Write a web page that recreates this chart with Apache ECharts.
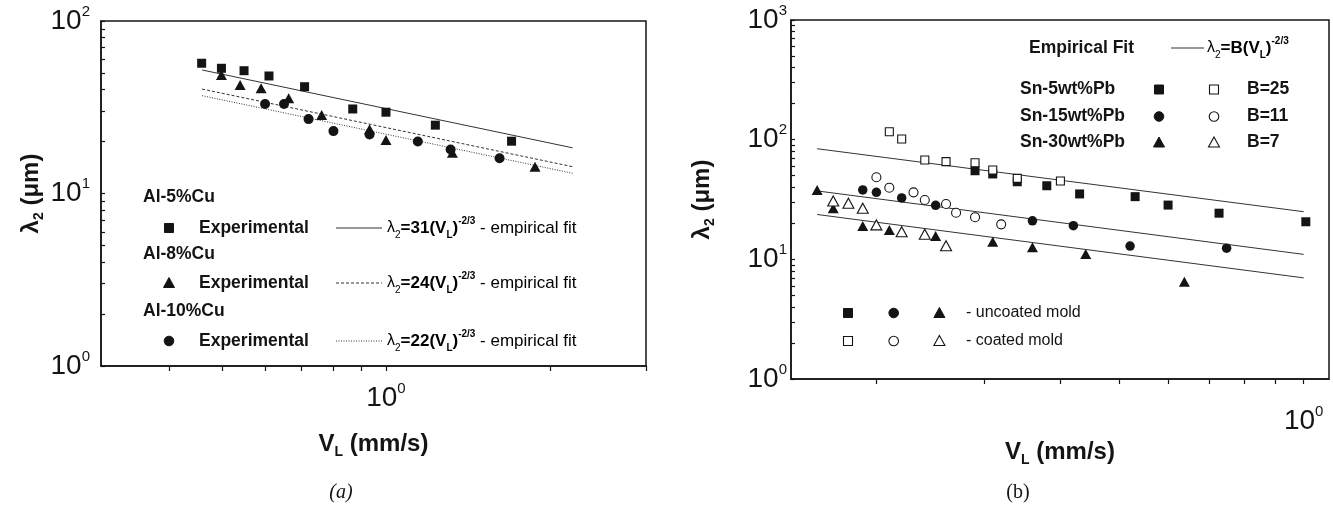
<!DOCTYPE html>
<html>
<head>
<meta charset="utf-8">
<script src="https://cdn.jsdelivr.net/npm/echarts@6/dist/echarts.min.js"></script>
<style>html,body{margin:0;padding:0;background:#fff}#c{width:1333px;height:510px}</style>
</head>
<body>
<div id="c"></div>
<script>
// ---------- Panel (a): Al-Cu ----------
const aCu5V  = [0.459, 0.499, 0.549, 0.610, 0.709, 0.869, 1.00, 1.232, 1.70];
const aCu5L  = [56.9, 53.2, 51.5, 48.0, 41.6, 30.9, 29.6, 24.9, 20.1];
const aCu8V  = [0.499, 0.540, 0.590, 0.663, 0.762, 0.933, 1.00, 1.324, 1.877];
const aCu8L  = [48.6, 42.6, 40.7, 35.6, 28.5, 23.6, 20.4, 17.2, 14.3];
const aCu10V = [0.600, 0.650, 0.721, 0.801, 0.933, 1.144, 1.314, 1.616];
const aCu10L = [33.0, 33.0, 27.0, 23.0, 22.0, 20.0, 18.0, 16.0];
const aFitV   = [0.46, 2.2];
const aFit31L = [52.0, 18.4];
const aFit24L = [40.3, 14.3];
const aFit22L = [36.9, 13.1];
const aXTicks  = [0.4, 0.5, 0.6, 0.7, 0.8, 0.9, 1, 2, 3];
const aXLabels = [1];
const aYTicks  = [1, 2, 3, 4, 5, 6, 7, 8, 9, 10, 20, 30, 40, 50, 60, 70, 80, 90, 100];
const aYLabels = [1, 10, 100];

// ---------- Panel (b): Sn-Pb ----------
const b5UncV  = [0.29, 0.31, 0.34, 0.38, 0.43, 0.53, 0.60, 0.727, 1.008];
const b5UncL  = [55.0, 51.7, 44.5, 41.2, 35.2, 33.4, 28.4, 24.3, 20.6];
const b5CoaV  = [0.21, 0.22, 0.24, 0.26, 0.29, 0.31, 0.34, 0.40];
const b5CoaL  = [116.6, 101.3, 67.6, 65.5, 64.2, 55.8, 47.5, 45.1];
const b15UncV = [0.19, 0.20, 0.22, 0.25, 0.36, 0.42, 0.52, 0.748];
const b15UncL = [38.0, 36.3, 32.6, 28.3, 21.0, 19.1, 12.9, 12.4];
const b15CoaV = [0.20, 0.21, 0.23, 0.24, 0.26, 0.27, 0.29, 0.32];
const b15CoaL = [48.5, 39.7, 36.3, 31.3, 29.0, 24.5, 22.5, 19.6];
const b30UncV = [0.16, 0.17, 0.19, 0.21, 0.25, 0.31, 0.36, 0.44, 0.638];
const b30UncL = [38.0, 26.7, 19.0, 17.6, 15.7, 14.0, 12.6, 11.1, 6.5];
const b30CoaV = [0.17, 0.18, 0.19, 0.20, 0.22, 0.24, 0.26];
const b30CoaL = [30.7, 29.4, 26.7, 19.4, 17.0, 16.2, 13.0];
const bFitV   = [0.16, 1.0];
const bFit25L = [84.0, 25.0];
const bFit11L = [37.3, 11.0];
const bFit7L  = [23.7, 7.0];
const bXTicks  = [0.2, 0.3, 0.4, 0.5, 0.6, 0.7, 0.8, 0.9, 1];
const bXLabels = [1];
const bYTicks  = [1, 2, 3, 4, 5, 6, 7, 8, 9, 10, 20, 30, 40, 50, 60, 70, 80, 90,
                  100, 200, 300, 400, 500, 600, 700, 800, 900, 1000];
const bYLabels = [1, 10, 100, 1000];

// ---------- helpers ----------
const FONT = '"Liberation Sans", Arial, Helvetica, sans-serif';
const INK = '#141414';
const zip = (xs, ys) => xs.map((x, i) => [x, ys[i]]);
const powLabel = v => '{n|10}{s|' + Math.round(Math.log10(v)) + '}';
const tickRich = {
  n: {fontSize: 28, fontFamily: FONT, color: INK, lineHeight: 34},
  s: {fontSize: 15, fontFamily: FONT, color: INK, verticalAlign: 'top', lineHeight: 15}
};
const nameRich = {
  a: {fontSize: 24, fontWeight: 'bold', fontFamily: FONT, color: INK, lineHeight: 30},
  s: {fontSize: 14, fontWeight: 'bold', fontFamily: FONT, color: INK, verticalAlign: 'bottom', lineHeight: 14}
};
const lineSt = {color: INK, width: 1.5};

function xAx(grid, min, max, ticks, labels, margin, gap) {
  return {
    type: 'log', logBase: 10, gridIndex: grid, min: min, max: max,
    name: '{a|V}{s|L}{a| (mm/s)}', nameLocation: 'middle', nameGap: gap,
    nameTextStyle: {rich: nameRich},
    axisLine: {show: true, onZero: false, lineStyle: lineSt},
    axisTick: {show: true, inside: false, length: 5, customValues: ticks, lineStyle: {color: INK, width: 1.2}},
    axisLabel: {show: true, customValues: labels, margin: margin, formatter: powLabel, rich: tickRich},
    splitLine: {show: false}, minorTick: {show: false}
  };
}
function yAx(grid, min, max, ticks, labels, margin, gap) {
  return {
    type: 'log', logBase: 10, gridIndex: grid, min: min, max: max,
    name: '{a|λ}{s|2}{a| (μm)}', nameLocation: 'middle', nameGap: gap, nameRotate: 90,
    nameTextStyle: {rich: nameRich},
    axisLine: {show: true, onZero: false, lineStyle: lineSt},
    axisTick: {show: true, inside: true, length: 4, customValues: ticks, lineStyle: {color: INK, width: 1.2}},
    axisLabel: {show: true, customValues: labels, margin: margin, formatter: powLabel, rich: tickRich},
    splitLine: {show: false}, minorTick: {show: false}
  };
}
function scat(xi, data, symbol, size, filled) {
  return {
    type: 'scatter', xAxisIndex: xi, yAxisIndex: xi, data: data, symbol: symbol, symbolSize: size,
    itemStyle: filled ? {color: INK, opacity: 1} : {color: '#fff', borderColor: INK, borderWidth: 1.1, opacity: 1},
    emphasis: {disabled: true},
    z: 5
  };
}
function fit(xi, data, type) {
  return {
    type: 'line', xAxisIndex: xi, yAxisIndex: xi, data: data, showSymbol: false, symbol: 'none',
    lineStyle: {color: '#333', width: 1, type: type}, z: 3
  };
}

// ---------- legend graphics ----------
const G = [];
function txt(x, y, text, opt) {
  G.push({type: 'text', x: x, y: y, style: Object.assign({
    text: text, fill: INK, font: 'bold 17.5px ' + FONT, verticalAlign: 'middle', align: 'left'
  }, opt || {})});
}
function marker(kind, cx, cy, filled) {
  const st = filled ? {fill: INK, stroke: INK, lineWidth: 1} : {fill: '#fff', stroke: INK, lineWidth: 1.1};
  if (kind === 'rect') G.push({type: 'rect', shape: {x: cx - 4.5, y: cy - 4.5, width: 9, height: 9}, style: st});
  else if (kind === 'circle') G.push({type: 'circle', shape: {cx: cx, cy: cy, r: 4.8}, style: st});
  else G.push({type: 'polygon', shape: {points: [[cx, cy - 5.5], [cx + 5.5, cy + 4.5], [cx - 5.5, cy + 4.5]]}, style: st});
}
function sample(x1, x2, y, dash) {
  G.push({type: 'line', shape: {x1: x1, y1: y, x2: x2, y2: y},
    style: {stroke: '#333', lineWidth: 1, lineDash: dash}});
}
const fRich = {
  l: {fontSize: 16, fontFamily: FONT, color: INK, lineHeight: 24},
  ls: {fontSize: 10, fontFamily: FONT, color: INK, verticalAlign: 'bottom', lineHeight: 10},
  b: {fontSize: 17, fontWeight: 'bold', fontFamily: FONT, color: INK, lineHeight: 24},
  bs: {fontSize: 10, fontWeight: 'bold', fontFamily: FONT, color: INK, verticalAlign: 'bottom', lineHeight: 10},
  bp: {fontSize: 10, fontWeight: 'bold', fontFamily: FONT, color: INK, verticalAlign: 'top', lineHeight: 10},
  r: {fontSize: 17, fontFamily: FONT, color: INK, lineHeight: 24}
};
function formula(x, y, B, tail) {
  G.push({type: 'text', x: x, y: y, style: {
    text: '{l|λ}{ls|2}{b|=' + B + '(V}{bs|L}{b|)}{bp|-2/3}' + (tail ? '{r| - empirical fit}' : ''),
    rich: fRich, verticalAlign: 'middle', align: 'left'
  }});
}

// panel (a) legend
const aRows = [
  {title: 'Al-5%Cu',  ty: 197, my: 228, kind: 'rect',     B: '31', dash: null},
  {title: 'Al-8%Cu',  ty: 254, my: 283, kind: 'triangle', B: '24', dash: [3, 2]},
  {title: 'Al-10%Cu', ty: 311, my: 341, kind: 'circle',   B: '22', dash: [1, 1.5]}
];
aRows.forEach(r => {
  txt(143, r.ty, r.title);
  marker(r.kind, 169, r.my, true);
  txt(199, r.my, 'Experimental');
  sample(336, 382, r.my, r.dash);
  formula(387, r.my, r.B, true);
});

// panel (b) legend
txt(1029, 48, 'Empirical Fit');
sample(1171, 1204, 48, null);
formula(1207, 48, 'B', false);
const bRows = [
  {title: 'Sn-5wt%Pb',  y: 89.5,  kind: 'rect',     B: 'B=25'},
  {title: 'Sn-15wt%Pb', y: 116.5, kind: 'circle',   B: 'B=11'},
  {title: 'Sn-30wt%Pb', y: 142.5, kind: 'triangle', B: 'B=7'}
];
bRows.forEach(r => {
  txt(1020, r.y, r.title);
  marker(r.kind, 1159, r.y, true);
  marker(r.kind, 1214, r.y, false);
  txt(1247, r.y, r.B);
});
['rect', 'circle', 'triangle'].forEach((k, i) => {
  marker(k, 848 + i * 45.7, 313, true);
  marker(k, 848 + i * 45.7, 341, false);
});
txt(966, 313, '- uncoated mold', {font: '16px ' + FONT});
txt(966, 341, '- coated mold', {font: '16px ' + FONT});

// captions
G.push({type: 'text', x: 341, y: 493, style: {text: '(a)', fill: INK, font: 'italic 20px "Liberation Serif", "Times New Roman", serif', align: 'center', verticalAlign: 'middle'}});
G.push({type: 'text', x: 1018, y: 493, style: {text: '(b)', fill: INK, font: '20px "Liberation Serif", "Times New Roman", serif', align: 'center', verticalAlign: 'middle'}});

const option = {
  animation: false,
  backgroundColor: '#fff',
  textStyle: {fontFamily: FONT},
  grid: [
    {left: 101, top: 21, width: 545, height: 345, show: true, borderColor: INK, borderWidth: 1.5, backgroundColor: 'transparent'},
    {left: 791, top: 20, width: 538, height: 359, show: true, borderColor: INK, borderWidth: 1.5, backgroundColor: 'transparent'}
  ],
  xAxis: [
    xAx(0, 0.3, 3, aXTicks, aXLabels, 15, 63),
    xAx(1, 0.145, 1.1, bXTicks, bXLabels, 25, 53)
  ],
  yAxis: [
    yAx(0, 1, 100, aYTicks, aYLabels, 11, 46),
    yAx(1, 1, 1000, bYTicks, bYLabels, 4, 74)
  ],
  series: [
    fit(0, zip(aFitV, aFit31L), 'solid'),
    fit(0, zip(aFitV, aFit24L), [3, 2]),
    fit(0, zip(aFitV, aFit22L), [1, 1.5]),
    scat(0, zip(aCu5V, aCu5L), 'rect', 9, true),
    scat(0, zip(aCu8V, aCu8L), 'triangle', [11, 10], true),
    scat(0, zip(aCu10V, aCu10L), 'circle', 10, true),
    fit(1, zip(bFitV, bFit25L), 'solid'),
    fit(1, zip(bFitV, bFit11L), 'solid'),
    fit(1, zip(bFitV, bFit7L), 'solid'),
    scat(1, zip(b5UncV, b5UncL), 'rect', 9, true),
    scat(1, zip(b5CoaV, b5CoaL), 'rect', 8, false),
    scat(1, zip(b15UncV, b15UncL), 'circle', 9.5, true),
    scat(1, zip(b15CoaV, b15CoaL), 'circle', 9, false),
    scat(1, zip(b30UncV, b30UncL), 'triangle', [11, 10], true),
    scat(1, zip(b30CoaV, b30CoaL), 'triangle', [11, 10], false)
  ],
  graphic: G
};
const chart = echarts.init(document.getElementById('c'), null, {renderer: 'canvas'});
chart.setOption(option);
</script>
</body>
</html>
